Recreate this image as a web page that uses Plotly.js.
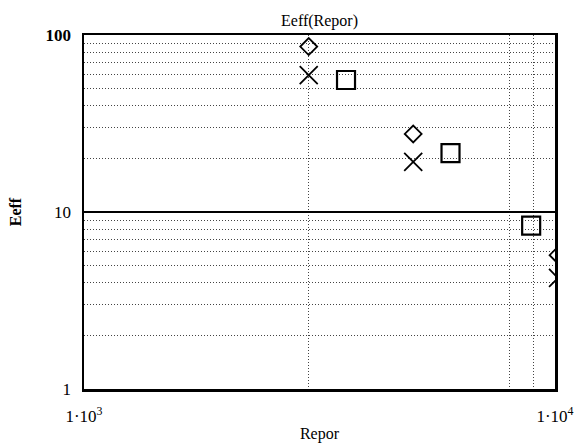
<!DOCTYPE html>
<html>
<head>
<meta charset="utf-8">
<script src="https://cdn.plot.ly/plotly-3.0.1.min.js"></script>
<style>html,body{margin:0;padding:0;background:#fff;}#chart{width:579px;height:445px;}</style>
</head>
<body>
<div id="chart"></div>
<script>
// Data (log-log)
const diamondX = [3000, 5000, 10150];
const diamondY = [86, 27.6, 5.7];
const crossX = [3000, 5000, 10150];
const crossY = [59.4, 19.2, 4.24];
const squareX = [3600, 6000, 8900];
const squareY = [55.7, 21.5, 8.37];

const xTickVals = [1000, 10000];
const xTickText = ['1\u00b710<sup>3</sup>', '1\u00b710<sup>4</sup>'];
const xGridVals = [3000, 8000, 9000];
const yTickVals = [1, 10, 100];
const yTickText = ['1', '10', '<b>100</b>'];
const yGridVals = [2,3,4,5,6,7,8,9,20,30,40,50,60,70,80,90];
const refLineY = 10;

const font = "'Liberation Serif', 'Times New Roman', serif";

const traces = [
  {x: diamondX, y: diamondY, mode: 'markers', type: 'scatter', name: 'diamond',
   marker: {symbol: 'diamond-open', size: 13, color: '#000', line: {color: '#000', width: 1.8}}},
  {x: crossX, y: crossY, mode: 'markers', type: 'scatter', name: 'cross',
   marker: {symbol: 'x-thin-open', size: 18, color: '#000', line: {color: '#000', width: 1.8}}},
  {x: squareX, y: squareY, mode: 'markers', type: 'scatter', name: 'square',
   marker: {symbol: 'square-open', size: 18, color: '#000', line: {color: '#000', width: 2.2}}}
];

const gridStyle = {gridcolor: '#444', gridwidth: 1, griddash: '1px,2px'};

const layout = {
  width: 579, height: 445,
  margin: {l: 84, r: 24, t: 35, b: 56},
  paper_bgcolor: '#fff', plot_bgcolor: '#fff',
  showlegend: false,
  font: {family: font, color: '#000', size: 16},
  title: {text: 'Eeff(Repor)', font: {family: font, size: 16, color: '#000'},
          x: 0.5, xref: 'paper', xanchor: 'center', y: 0.955, yref: 'container', yanchor: 'middle'},
  xaxis: {
    type: 'log', range: [3, 4], autorange: false,
    tickmode: 'array', tickvals: xTickVals, ticktext: xTickText,
    showgrid: false,
    minor: Object.assign({tickmode: 'array', tickvals: xGridVals, showgrid: true, ticks: ''}, gridStyle),
    showline: true, linecolor: '#000', linewidth: 2.5, mirror: true,
    ticks: '', zeroline: false, ticklabelstandoff: 10,
    tickfont: {family: font, size: 17, color: '#000'},
    title: {text: 'Repor', font: {family: font, size: 16, color: '#000'}, standoff: 3},
    automargin: false
  },
  yaxis: {
    type: 'log', range: [0, 2], autorange: false,
    tickmode: 'array', tickvals: yTickVals, ticktext: yTickText,
    showgrid: false,
    minor: Object.assign({tickmode: 'array', tickvals: yGridVals, showgrid: true, ticks: ''}, gridStyle),
    showline: true, linecolor: '#000', linewidth: 2.5, mirror: true,
    ticks: '', zeroline: false, ticklabelstandoff: 7,
    tickfont: {family: font, size: 17, color: '#000'},
    title: {text: '<b>Eeff</b>', font: {family: font, size: 16, color: '#000'}, standoff: 20},
    automargin: false
  },
  shapes: [
    {type: 'line', xref: 'paper', x0: 0, x1: 1, yref: 'y', y0: refLineY, y1: refLineY,
     line: {color: '#000', width: 2.2}}
  ]
};

Plotly.newPlot('chart', traces, layout, {staticPlot: true, displayModeBar: false});
</script>
</body>
</html>
